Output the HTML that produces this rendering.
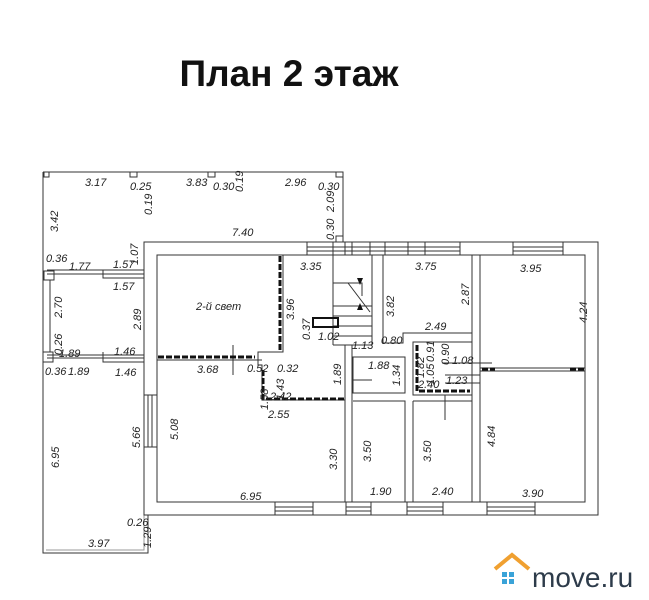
<!DOCTYPE html>
<html><head><meta charset="utf-8"><style>
html,body{margin:0;padding:0;background:#fff;width:649px;height:600px;overflow:hidden}
svg{display:block}
.t{font-family:"Liberation Sans",sans-serif;font-size:11px;font-style:italic;fill:#222}
</style></head><body>
<svg width="649" height="600" viewBox="0 0 649 600" xmlns="http://www.w3.org/2000/svg">
<text x="289" y="86" text-anchor="middle" font-family="Liberation Sans, DejaVu Sans, sans-serif" font-weight="bold" font-size="37" fill="#111">План 2 этаж</text>
<g fill="none" stroke="#333" stroke-width="1">
<path d="M43 172 H343 V242"/>
<path d="M43 172 V553 H148 V515"/>
<path d="M46 550 H144 V515" stroke="#999"/>
<rect x="44" y="172" width="5" height="5"/><rect x="130" y="172" width="7" height="5"/><rect x="208" y="172" width="7" height="5"/><rect x="336" y="172" width="7" height="5"/>
<rect x="336" y="236" width="7" height="6"/>
<path d="M47 270 H144 M47 274 H144"/>
<path d="M103 270 V278 H144 M103 278 H144"/>
<rect x="44" y="271" width="10" height="9"/>
<path d="M50 280 V352"/>
<path d="M47 355 H144 M47 358 H144"/>
<path d="M103 352 V362 H144"/>
<rect x="43" y="352" width="10" height="10"/>
<rect x="144" y="242" width="454" height="273"/>
<rect x="157" y="255" width="428" height="247"/>
<path d="M144 395 H157 M144 447 H157 M148 395 V447 M152 395 V447"/>
<path d="M307 242 V255 M333 242 V255 M345 242 V255 M352 242 V255 M370 242 V255 M385 242 V255 M408 242 V255 M425 242 V255 M460 242 V255 M513 242 V255 M563 242 V255"/>
<path d="M307 247 H460 M307 251 H460 M513 247 H563 M513 251 H563"/>
<path d="M275 502 V515 M313 502 V515 M346 502 V515 M371 502 V515 M407 502 V515 M443 502 V515 M487 502 V515 M535 502 V515"/>
<path d="M275 507 H313 M275 511 H313 M346 507 H371 M346 511 H371 M407 507 H443 M407 511 H443 M487 507 H535 M487 511 H535"/>
<path d="M283 255 V352 H258 V365 H262 V400 H345"/>
<path d="M157 360 H262"/>
<path d="M345 345 V502 M352 345 V502"/>
<path d="M333 255 V345 M372 255 V345 M333 345 H372"/>
<path d="M333 283 H362 V296 M333 306 H372 M333 316 H372 M333 326 H372 M333 336 H372"/>
<path d="M348 283 L370 312"/>
<path d="M383 255 V343 H403 V333 H472 V343 M472 255 V502 M480 255 V502"/>
<path d="M353 357 H405 V393 H353 Z M413 342 H472 V395 H413 Z"/>
<path d="M353 401 H405 V502 M413 401 H472 M413 401 V502"/>
<path d="M480 368 H585 M480 371 H585"/>
<path d="M233 345 V375 M352 380 H372 M442 363 H492 M445 375 H480 M445 383 H480 M445 395 V420"/>
</g>
<g stroke="#111" stroke-width="3" stroke-dasharray="6 2" fill="none">
<path d="M280 256 V350"/><path d="M158 357 H255"/><path d="M263 370 V399 H344"/>
<path d="M417 345 V391 H470"/><path d="M482 369 H495 M570 369 H584"/>
</g>
<rect x="313" y="318" width="25" height="9" fill="none" stroke="#111" stroke-width="2"/>
<path d="M360 285 l-3 -7 h6z M360 303 l-3 7 h6z" fill="#111"/>
<g class="t">
<text x="85" y="186">3.17</text><text x="130" y="190">0.25</text><text x="186" y="186">3.83</text><text x="213" y="190">0.30</text><text x="285" y="186">2.96</text><text x="318" y="190">0.30</text>
<text x="232" y="236">7.40</text><text x="300" y="270">3.35</text><text x="46" y="262">0.36</text><text x="69" y="270">1.77</text><text x="113" y="268">1.57</text><text x="113" y="290">1.57</text>
<text x="196" y="310">2-й свет</text><text x="59" y="357">1.89</text><text x="114" y="355">1.46</text><text x="45" y="375">0.36</text><text x="68" y="375">1.89</text><text x="115" y="376">1.46</text>
<text x="197" y="373">3.68</text><text x="247" y="372">0.52</text><text x="277" y="372">0.32</text><text x="270" y="400">2.42</text><text x="268" y="418">2.55</text>
<text x="318" y="340">1.02</text><text x="352" y="349">1.13</text><text x="381" y="344">0.80</text><text x="415" y="270">3.75</text><text x="520" y="272">3.95</text>
<text x="425" y="330">2.49</text><text x="368" y="369">1.88</text><text x="418" y="388">2.40</text><text x="446" y="384">1.23</text><text x="452" y="364">1.08</text>
<text x="240" y="500">6.95</text><text x="370" y="495">1.90</text><text x="432" y="495">2.40</text><text x="522" y="497">3.90</text>
<text x="127" y="526">0.26</text><text x="88" y="547">3.97</text>
</g>
<g class="t">
<text transform="translate(58,232) rotate(-90)">3.42</text><text transform="translate(138,265) rotate(-90)">1.07</text><text transform="translate(152,215) rotate(-90)">0.19</text><text transform="translate(243,192) rotate(-90)">0.19</text>
<text transform="translate(334,212) rotate(-90)">2.09</text><text transform="translate(334,240) rotate(-90)">0.30</text>
<text transform="translate(62,318) rotate(-90)">2.70</text><text transform="translate(62,355) rotate(-90)">0.26</text><text transform="translate(141,330) rotate(-90)">2.89</text>
<text transform="translate(294,320) rotate(-90)">3.96</text><text transform="translate(310,340) rotate(-90)">0.37</text><text transform="translate(394,317) rotate(-90)">3.82</text><text transform="translate(469,305) rotate(-90)">2.87</text>
<text transform="translate(587,323) rotate(-90)">4.24</text><text transform="translate(341,385) rotate(-90)">1.89</text><text transform="translate(400,386) rotate(-90)">1.34</text>
<text transform="translate(424,378) rotate(-90)">1.82</text><text transform="translate(434,385) rotate(-90)">1.05</text><text transform="translate(434,362) rotate(-90)">0.91</text><text transform="translate(449,365) rotate(-90)">0.90</text>
<text transform="translate(268,410) rotate(-90)">1.58</text><text transform="translate(284,400) rotate(-90)">1.43</text>
<text transform="translate(59,468) rotate(-90)">6.95</text><text transform="translate(140,448) rotate(-90)">5.66</text><text transform="translate(178,440) rotate(-90)">5.08</text>
<text transform="translate(337,470) rotate(-90)">3.30</text><text transform="translate(371,462) rotate(-90)">3.50</text><text transform="translate(431,462) rotate(-90)">3.50</text><text transform="translate(495,447) rotate(-90)">4.84</text>
<text transform="translate(151,548) rotate(-90)">1.29</text>
</g>
<g>
<path d="M495 569 L512 555 L529 569" fill="none" stroke="#f0a030" stroke-width="4"/>
<rect x="502" y="572" width="5" height="5" fill="#3aa3d8"/><rect x="509" y="572" width="5" height="5" fill="#3aa3d8"/>
<rect x="502" y="579" width="5" height="5" fill="#3aa3d8"/><rect x="509" y="579" width="5" height="5" fill="#3aa3d8"/>
<text x="532" y="587" font-family="Liberation Sans, sans-serif" font-size="28" fill="#2d3b4a">move.ru</text>
</g>
</svg>
</body></html>
